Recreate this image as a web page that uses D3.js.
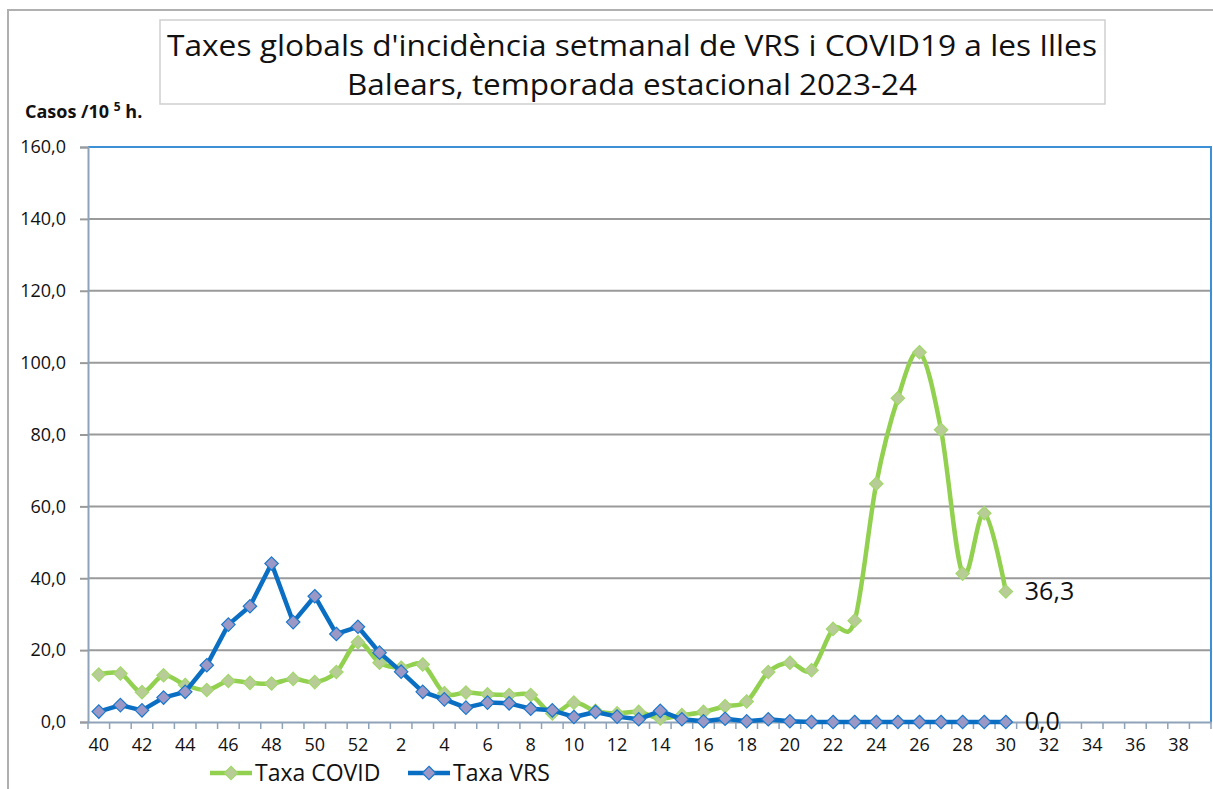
<!DOCTYPE html>
<html>
<head>
<meta charset="utf-8">
<script src="https://cdn.jsdelivr.net/npm/d3@7"></script>
<style>
  body { margin: 0; background: #fff; }
  svg { font-family: "Open Sans", sans-serif; }
</style>
</head>
<body>
<svg id="chart" width="1213" height="789"></svg>
<script>
// weeks of the season (40..52 then 1..39)
var weeks = d3.range(40, 53).concat(d3.range(1, 40));
var tickWeeks = weeks.filter(function (w) { return w % 2 === 0; });
var yTicks = [0, 20, 40, 60, 80, 100, 120, 140, 160];

// incidence per 10^5 inhabitants, weeks 40..30
var covid = [13.2, 13.5, 8.3, 13.0, 10.3, 8.9, 11.4, 10.9, 10.7, 12.0, 11.1, 13.9, 22.2,
  16.5, 15.1, 16.0, 8.0, 8.2, 7.7, 7.5, 7.5, 2.4, 5.4, 3.1, 2.4, 2.8, 1.0, 1.9, 2.8, 4.4,
  5.7, 13.9, 16.5, 14.4, 25.9, 28.2, 66.3, 90.1, 102.9, 81.3, 41.3, 58.1, 36.3];
var vrs = [2.9, 4.7, 3.25, 6.8, 8.4, 15.8, 27.1, 32.2, 44.1, 27.8, 35.0, 24.5, 26.5,
  19.3, 14.0, 8.4, 6.3, 4.0, 5.4, 5.2, 3.7, 3.25, 1.4, 2.8, 1.5, 0.75, 3.1, 0.75, 0.2, 0.9,
  0.2, 0.75, 0.2, 0, 0, 0, 0, 0, 0, 0, 0, 0, 0];

var svg = d3.select("#chart");
var plotLeft = 88, plotRight = 1211, plotTop = 147, plotBottom = 722;

var x = d3.scaleBand().domain(weeks).range([plotLeft, plotRight]).padding(0);
var y = d3.scaleLinear().domain([0, 160]).range([plotBottom, plotTop]);
var fmt = function (v) { return d3.format(".1f")(v).replace(".", ","); };

// outer chart border (top + left only visible)
svg.append("path")
  .attr("d", "M8,789 L8,10 L1213,10")
  .attr("fill", "none").attr("stroke", "#b0b0b0").attr("stroke-width", 2);

// title box
svg.append("rect")
  .attr("x", 160).attr("y", 20).attr("width", 945).attr("height", 84)
  .attr("fill", "#fff").attr("stroke", "#cfcfcf").attr("stroke-width", 1.5);
var titleLines = ["Taxes globals d'incidència setmanal de VRS i COVID19 a les Illes",
  "Balears, temporada estacional 2023-24"];
var titleWidths = [930, 570];
titleLines.forEach(function (t, i) {
  svg.append("text")
    .attr("x", 632).attr("y", 56 + i * 39)
    .attr("text-anchor", "middle")
    .attr("font-size", 30)
    .attr("textLength", titleWidths[i])
    .attr("lengthAdjust", "spacingAndGlyphs")
    .attr("fill", "#111")
    .text(t);
});

// y axis label
var yl = svg.append("text").attr("x", 25).attr("y", 118)
  .attr("font-size", 18).attr("font-weight", "bold").attr("fill", "#111");
yl.append("tspan").text("Casos /10 ");
yl.append("tspan").attr("font-size", 12).attr("dy", -7).text("5");
yl.append("tspan").attr("dy", 7).text(" h.");

// gridlines
svg.append("g").selectAll("line")
  .data(yTicks.slice(1, -1))
  .enter().append("line")
  .attr("x1", plotLeft).attr("x2", plotRight)
  .attr("y1", function (d) { return y(d); }).attr("y2", function (d) { return y(d); })
  .attr("stroke", "#9a9a9a").attr("stroke-width", 2);

// plot area border (top + right, blue)
svg.append("path")
  .attr("d", "M" + plotLeft + "," + plotTop + " L" + plotRight + "," + plotTop + " L" + plotRight + "," + plotBottom)
  .attr("fill", "none").attr("stroke", "#3d8fd6").attr("stroke-width", 2);

// y axis
var yAxis = svg.append("g")
  .attr("transform", "translate(" + plotLeft + ",0)")
  .call(d3.axisLeft(y).tickValues(yTicks).tickFormat(fmt).tickSize(8).tickPadding(14));
yAxis.select(".domain").attr("stroke", "#8ea3ba").attr("stroke-width", 2);
yAxis.selectAll(".tick line").attr("stroke", "#9a9a9a").attr("stroke-width", 2);
yAxis.selectAll(".tick text").attr("font-size", 18).attr("fill", "#111")
  .attr("font-family", "Open Sans, sans-serif");

// x axis: tick marks on category boundaries
svg.append("g").selectAll("line")
  .data(weeks.concat(["end"]))
  .enter().append("line")
  .attr("x1", function (d) { return d === "end" ? plotRight : x(d); })
  .attr("x2", function (d) { return d === "end" ? plotRight : x(d); })
  .attr("y1", plotBottom).attr("y2", plotBottom + 7)
  .attr("stroke", "#8ea3ba").attr("stroke-width", 1.5);
var xAxis = svg.append("g")
  .attr("transform", "translate(0," + plotBottom + ")")
  .call(d3.axisBottom(x).tickValues(tickWeeks).tickSize(0).tickPadding(16));
xAxis.select(".domain").attr("stroke", "#8ea3ba").attr("stroke-width", 2);
xAxis.selectAll(".tick text").attr("font-size", 18).attr("fill", "#111")
  .attr("font-family", "Open Sans, sans-serif");

var cx = function (d, i) { return x(weeks[i]) + x.bandwidth() / 2; };
var diamond = d3.symbol().type(d3.symbolDiamond2).size(115);

function drawSeries(values, color, curve, mFill, mStroke) {
  var line = d3.line().x(cx).y(function (d) { return y(d); }).curve(curve);
  svg.append("path").datum(values)
    .attr("d", line).attr("fill", "none")
    .attr("stroke", color).attr("stroke-width", 4.5).attr("stroke-linejoin", "round");
  svg.append("g").selectAll("path")
    .data(values).enter().append("path")
    .attr("d", diamond)
    .attr("transform", function (d, i) { return "translate(" + cx(d, i) + "," + y(d) + ")"; })
    .attr("fill", mFill).attr("stroke", mStroke).attr("stroke-width", 1.2);
}

drawSeries(covid, "#92d050", d3.curveCardinal.tension(0), "#b7cc96", "#a2d86a");
drawSeries(vrs, "#0a6fc2", d3.curveLinear, "#9c98c6", "#1a78cc");

// end labels
[[covid, covid.length - 1], [vrs, vrs.length - 1]].forEach(function (s) {
  var v = s[0][s[1]];
  svg.append("text")
    .attr("x", cx(v, s[1]) + 19).attr("y", y(v) + 8)
    .attr("font-size", 25).attr("fill", "#111")
    .text(fmt(v));
});

// legend
var legend = [
  { name: "Taxa COVID", color: "#92d050", fill: "#b7cc96", stroke: "#a2d86a", x: 210 },
  { name: "Taxa VRS", color: "#0a6fc2", fill: "#9c98c6", stroke: "#1a78cc", x: 408 }
];
var lg = svg.append("g").selectAll("g").data(legend).enter().append("g")
  .attr("transform", function (d) { return "translate(" + d.x + ",773)"; });
lg.append("line").attr("x1", 0).attr("x2", 42).attr("stroke", function (d) { return d.color; })
  .attr("stroke-width", 4.5);
lg.append("path").attr("d", diamond).attr("transform", "translate(21,0)")
  .attr("fill", function (d) { return d.fill; }).attr("stroke", function (d) { return d.stroke; })
  .attr("stroke-width", 1.2);
lg.append("text").attr("x", 45).attr("y", 8).attr("font-size", 23).attr("fill", "#111")
  .text(function (d) { return d.name; });
</script>
</body>
</html>
